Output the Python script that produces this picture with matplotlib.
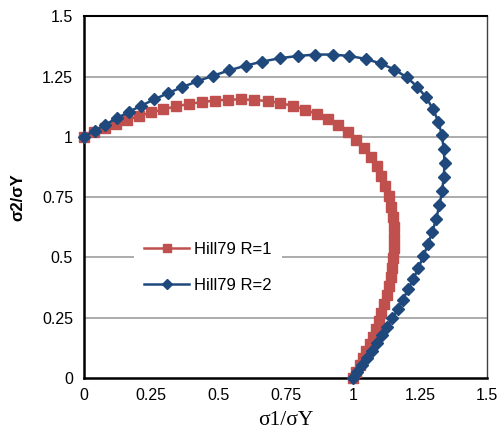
import matplotlib
matplotlib.use("Agg")
import matplotlib.pyplot as plt
from matplotlib.ticker import FixedLocator, FixedFormatter

# Hill79 R=1
r1_x = [1.000,1.013,1.026,1.038,1.051,1.063,1.075,1.086,1.097,1.107,1.117,1.126,1.134,1.141,1.147,1.151,1.154,1.155,1.153,1.150,1.143,1.134,1.122,1.107,1.089,1.067,1.042,1.013,0.981,0.945,0.907,0.866,0.823,0.778,0.731,0.683,0.634,0.585,0.535,0.486,0.437,0.389,0.341,0.294,0.249,0.204,0.161,0.119,0.078,0.038,0.000]
r1_y = [0.000,0.026,0.053,0.081,0.110,0.140,0.171,0.203,0.236,0.271,0.306,0.343,0.380,0.419,0.458,0.499,0.540,0.582,0.625,0.668,0.711,0.754,0.796,0.837,0.877,0.916,0.952,0.987,1.018,1.047,1.072,1.094,1.113,1.128,1.140,1.148,1.153,1.155,1.154,1.150,1.144,1.136,1.126,1.114,1.101,1.086,1.071,1.054,1.037,1.019,1.000]
# Hill79 R=2
r2_x = [1.000,1.017,1.035,1.053,1.071,1.090,1.109,1.128,1.148,1.167,1.187,1.206,1.226,1.245,1.263,1.280,1.297,1.311,1.323,1.333,1.339,1.342,1.339,1.332,1.319,1.299,1.273,1.240,1.201,1.155,1.104,1.048,0.988,0.925,0.860,0.795,0.729,0.664,0.601,0.539,0.479,0.421,0.365,0.312,0.261,0.212,0.166,0.122,0.079,0.039,0.000]
r2_y = [0.000,0.026,0.054,0.082,0.112,0.144,0.177,0.211,0.247,0.285,0.325,0.367,0.411,0.457,0.505,0.555,0.607,0.661,0.717,0.774,0.833,0.891,0.950,1.007,1.063,1.115,1.164,1.208,1.247,1.279,1.304,1.323,1.335,1.341,1.341,1.335,1.326,1.312,1.295,1.275,1.253,1.230,1.206,1.181,1.155,1.129,1.103,1.077,1.051,1.025,1.000]

tick_vals = [0, 0.25, 0.5, 0.75, 1, 1.25, 1.5]
tick_labels = ["0", "0.25", "0.5", "0.75", "1", "1.25", "1.5"]
series_labels = ["Hill79 R=1", "Hill79 R=2"]

plt.rcParams['font.family'] = ['Liberation Sans', 'DejaVu Sans']

fig = plt.figure(figsize=(5.01, 4.38), dpi=100)
ax = fig.add_axes([0.168, 0.137, 0.804, 0.826])

for v in tick_vals[1:-1]:
    ax.axhline(v, color='#a6a6a6', lw=1.3, zorder=1)

ax.plot(r1_x, r1_y, 's-', color='#c0504d', mec='#c0504d', ms=7, lw=1.8,
        clip_on=False, zorder=3, label=series_labels[0])
ax.plot(r2_x, r2_y, 'D-', color='#1f497d', mec='#1f497d', ms=6, lw=1.8,
        clip_on=False, zorder=4, label=series_labels[1])

ax.set_xlim(0, 1.5)
ax.set_ylim(0, 1.5)
for axis in (ax.xaxis, ax.yaxis):
    axis.set_major_locator(FixedLocator(tick_vals))
    axis.set_major_formatter(FixedFormatter(tick_labels))
ax.tick_params(length=0, labelsize=11.5, colors='black')
ax.tick_params(axis='y', pad=8)
ax.tick_params(axis='x', pad=7)

for side in ('left', 'bottom'):
    ax.spines[side].set_linewidth(1.8)
    ax.spines[side].set_color('black')
ax.spines['top'].set_linewidth(1.5)
ax.spines['top'].set_color('black')
ax.spines['right'].set_linewidth(1.0)
ax.spines['right'].set_color('#404040')

ax.set_xlabel("σ1/σY", family=['Liberation Serif', 'DejaVu Serif'], fontsize=15.5)
ax.xaxis.set_label_coords(0.5, -0.09)
ax.set_ylabel("σ2/σY", fontsize=12, fontweight='bold')
ax.yaxis.set_label_coords(-0.146, 0.5)

leg = ax.legend(loc='upper left', bbox_to_anchor=(0.124, 0.403), fontsize=12,
                frameon=True, fancybox=False, framealpha=1, edgecolor='none',
                facecolor='white', handlelength=2.7, handletextpad=0.3,
                labelspacing=1.24, borderpad=0.6, borderaxespad=0, numpoints=1,
                markerscale=0.9)
leg.set_zorder(5)

fig.savefig('out.png', dpi=100)
